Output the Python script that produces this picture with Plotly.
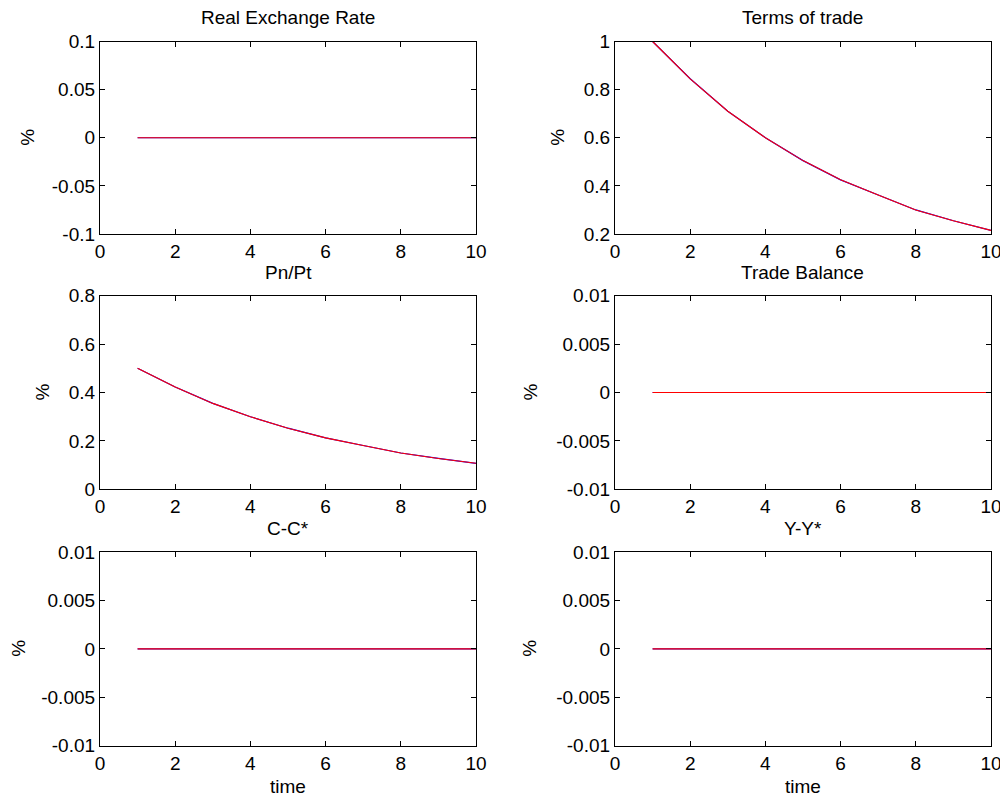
import plotly.graph_objects as go

time = [1, 2, 3, 4, 5, 6, 7, 8, 9, 10]
real_exchange_rate = [0, 0, 0, 0, 0, 0, 0, 0, 0, 0]
terms_of_trade = [1.0, 0.845, 0.71, 0.60, 0.505, 0.425, 0.362, 0.30, 0.255, 0.215]
pn_pt = [0.5, 0.4225, 0.355, 0.30, 0.2525, 0.2125, 0.181, 0.15, 0.1275, 0.1075]
trade_balance = [0, 0, 0, 0, 0, 0, 0, 0, 0, 0]
c_cstar = [0, 0, 0, 0, 0, 0, 0, 0, 0, 0]
y_ystar = [0, 0, 0, 0, 0, 0, 0, 0, 0, 0]

titles = ["Real Exchange Rate", "Terms of trade", "Pn/Pt", "Trade Balance", "C-C*", "Y-Y*"]
series = [real_exchange_rate, terms_of_trade, pn_pt, trade_balance, c_cstar, y_ystar]
yticks = [
    ([-0.1, -0.05, 0, 0.05, 0.1], ["-0.1", "-0.05", "0", "0.05", "0.1"]),
    ([0.2, 0.4, 0.6, 0.8, 1.0], ["0.2", "0.4", "0.6", "0.8", "1"]),
    ([0, 0.2, 0.4, 0.6, 0.8], ["0", "0.2", "0.4", "0.6", "0.8"]),
    ([-0.01, -0.005, 0, 0.005, 0.01], ["-0.01", "-0.005", "0", "0.005", "0.01"]),
    ([-0.01, -0.005, 0, 0.005, 0.01], ["-0.01", "-0.005", "0", "0.005", "0.01"]),
    ([-0.01, -0.005, 0, 0.005, 0.01], ["-0.01", "-0.005", "0", "0.005", "0.01"]),
]
xticks = [0, 2, 4, 6, 8, 10]

# page has an 8px body margin; figure pixel = screen pixel - 8
OFF = 8
W, H = 1000, 793


def px(v):
    return (v - OFF) / W


def py(v):
    return 1 - (v - OFF) / H


xdoms = [[px(100), px(476)], [px(615), px(991)]]
ydoms = [[py(234), py(41.5)], [py(489.3), py(295.7)], [py(745.7), py(552)]]
pct_x = [28, 558, 42, 530, 19, 530]

FONT = "Liberation Sans, Arial, sans-serif"
FS = 19
fig = go.Figure()
annotations = []
for i in range(6):
    r, c = divmod(i, 2)
    n = i + 1
    xa = "x" if n == 1 else f"x{n}"
    ya = "y" if n == 1 else f"y{n}"
    fig.add_trace(go.Scatter(x=time, y=series[i], mode="lines", line=dict(color="#0000ff", width=1.2),
                             xaxis=xa, yaxis=ya, showlegend=False))
    fig.add_trace(go.Scatter(x=time, y=series[i], mode="lines", line=dict(color="#ff0000", width=1.1),
                             xaxis=xa, yaxis=ya, showlegend=False))
    tv, tt = yticks[i]
    axcommon = dict(showline=True, linecolor="black", linewidth=1.2, mirror="allticks", ticks="inside",
                    ticklen=5, tickcolor="black", showgrid=False, zeroline=False, automargin=False,
                    tickfont=dict(family=FONT, size=FS, color="black"))
    fig.update_layout(**{
        ("xaxis" if n == 1 else f"xaxis{n}"): dict(domain=xdoms[c], anchor=ya, range=[0, 10],
                                                   tickvals=xticks, ticktext=[str(v) for v in xticks], **axcommon),
        ("yaxis" if n == 1 else f"yaxis{n}"): dict(domain=ydoms[r], anchor=xa, range=[tv[0], tv[-1]],
                                                   tickvals=tv, ticktext=tt, **axcommon),
    })
    cx = (xdoms[c][0] + xdoms[c][1]) / 2
    annotations.append(dict(text=titles[i], x=cx, y=ydoms[r][1], xref="paper", yref="paper",
                            xanchor="center", yanchor="bottom", yshift=11, showarrow=False,
                            font=dict(family=FONT, size=FS, color="black")))
    annotations.append(dict(text="%", x=px(pct_x[i]), y=(ydoms[r][0] + ydoms[r][1]) / 2, xref="paper",
                            yref="paper", xanchor="center", yanchor="middle", textangle=-90, showarrow=False,
                            borderpad=0, font=dict(family=FONT, size=FS, color="black")))
    if r == 2:
        annotations.append(dict(text="time", x=cx, y=ydoms[r][0], xref="paper", yref="paper",
                                xanchor="center", yanchor="top", yshift=-28, showarrow=False,
                                font=dict(family=FONT, size=FS, color="black")))

fig.update_layout(width=W, height=H, margin=dict(l=0, r=0, t=0, b=0, autoexpand=False),
                  paper_bgcolor="white", plot_bgcolor="white", annotations=annotations)
fig.write_html("out.html")
